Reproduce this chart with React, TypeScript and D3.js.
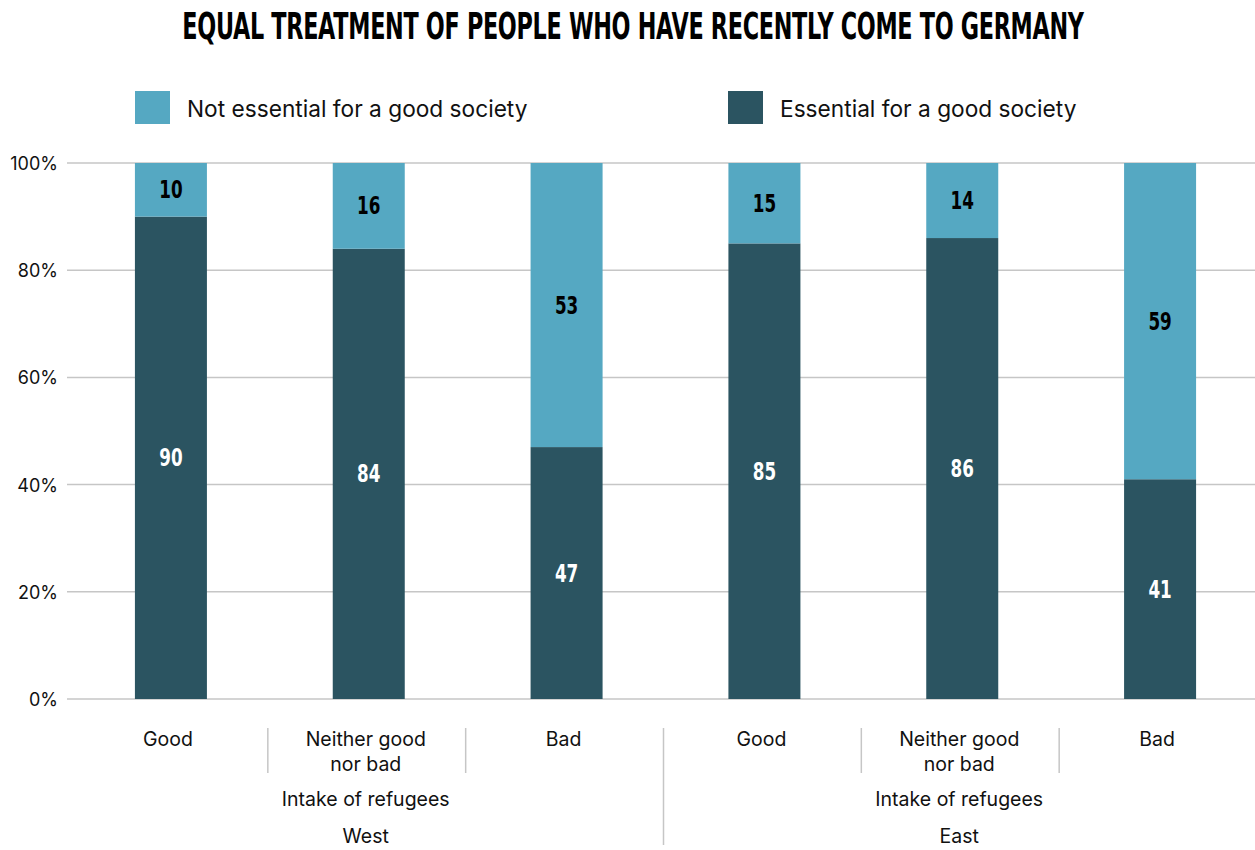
import React from "react";
import * as d3 from "d3";

const regions = ["West", "East"];
const categories = ["Good", "Neither good\nnor bad", "Bad"];
const groupLabel = "Intake of refugees";
const essential = [90, 84, 47, 85, 86, 41];
const notEssential = [10, 16, 53, 15, 14, 59];
const yTicks = [0, 20, 40, 60, 80, 100];
const seriesNames = ["Not essential for a good society", "Essential for a good society"];
const title = "EQUAL TREATMENT OF PEOPLE WHO HAVE RECENTLY COME TO GERMANY";

const W = 1255, H = 850;
const LIGHT = "#55a8c2";
const DARK = "#2b5461";
const GRID = "#c6c6c6";
const SANS = "Inter, Roboto, 'Noto Sans', sans-serif";
const COND = "'DejaVu Sans', sans-serif";

function Num({ x, y, v, fill }: { x: number; y: number; v: number; fill: string }) {
  return (
    <text transform={`translate(${x},${y}) scale(0.7,1)`} textAnchor="middle" fontFamily={COND}
      fontWeight={700} fontSize={24} fill={fill}>{v}</text>
  );
}

export default function App() {
  const bars = regions.flatMap((r, ri) =>
    categories.map((c, ci) => ({ key: `${r}-${ci}`, region: r, cat: c, idx: ri * 3 + ci }))
  );
  const x = d3.scaleBand<number>().domain(bars.map((b) => b.idx)).range([72, 1259]).paddingInner(0).paddingOuter(0);
  const y = d3.scaleLinear().domain([0, 100]).range([699, 163]);
  const barW = 72;
  const bw = x.bandwidth();

  return (
    <svg width={W} height={H} style={{ display: "block", position: "absolute", left: 0, top: 0, background: "#fff" }}>
      <text transform="translate(633,39) scale(0.603,1)" textAnchor="middle" fontFamily={COND} fontWeight={700} fontSize={37}
        fill="#000" letterSpacing={-0.5}>{title}</text>

      {/* legend */}
      <rect x={135} y={91} width={35} height={33} fill={LIGHT} />
      <text x={187} y={117} fontFamily={SANS} fontSize={22.7} fill="#111">{seriesNames[0]}</text>
      <rect x={728} y={91} width={35} height={33} fill={DARK} />
      <text x={780} y={117} fontFamily={SANS} fontSize={22.7} fill="#111">{seriesNames[1]}</text>

      {/* grid */}
      {yTicks.map((t) => (
        <g key={t}>
          <line x1={67} x2={1255} y1={y(t)} y2={y(t)} stroke={GRID} strokeWidth={1.5} />
          <text x={58} y={y(t) + 7} textAnchor="end" fontFamily={SANS} fontSize={18} fill="#111">{t}%</text>
        </g>
      ))}

      {/* bars */}
      {bars.map((b) => {
        const cx = (x(b.idx) as number) + bw / 2;
        const e = essential[b.idx];
        const n = notEssential[b.idx];
        return (
          <g key={b.key}>
            <rect x={cx - barW / 2} y={y(e)} width={barW} height={y(0) - y(e)} fill={DARK} />
            <rect x={cx - barW / 2} y={y(e + n)} width={barW} height={y(e) - y(e + n)} fill={LIGHT} />
            <Num x={cx} y={(y(0) + y(e)) / 2 + 8.5} v={e} fill="#fff" />
            <Num x={cx} y={(y(e) + y(e + n)) / 2 + 8.5} v={n} fill="#000" />
          </g>
        );
      })}

      {/* category labels */}
      {bars.map((b) => {
        const cx = (x(b.idx) as number) + bw / 2 - 3;
        const lines = b.cat.split("\n");
        return (
          <text key={"l" + b.key} textAnchor="middle" fontFamily={SANS} fontSize={19.5} fill="#111">
            {lines.map((ln, i) => (
              <tspan key={i} x={cx} y={746 + i * 25}>{ln}</tspan>
            ))}
          </text>
        );
      })}

      {/* separators */}
      {bars.map((b) => {
        const ci = b.idx % 3;
        if (b.idx === 0) return null;
        const sx = x(b.idx) as number;
        const long = ci === 0;
        return <line key={"s" + b.key} x1={sx - 2} x2={sx - 2} y1={728} y2={long ? 845 : 773} stroke={GRID} strokeWidth={1.5} />;
      })}

      {/* group labels */}
      {regions.map((r, ri) => {
        const x0 = x(ri * 3) as number;
        const x1 = (x(ri * 3 + 2) as number) + bw;
        const cx = (x0 + x1) / 2 - 3;
        return (
          <g key={r}>
            <text x={cx} y={806} textAnchor="middle" fontFamily={SANS} fontSize={19.5} fill="#111">{groupLabel}</text>
            <text x={cx} y={843} textAnchor="middle" fontFamily={SANS} fontSize={19.5} fill="#111">{r}</text>
          </g>
        );
      })}
    </svg>
  );
}
